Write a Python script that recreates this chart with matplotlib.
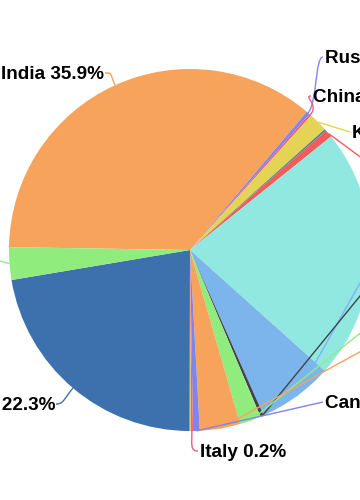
import numpy as np
import matplotlib
matplotlib.use("Agg")
import matplotlib.pyplot as plt
from matplotlib.path import Path
from matplotlib.patches import PathPatch

# ---- data (clockwise, starting with India) ----
countries = ["India", "Russia", "China", "Kazakhstan", "Other A", "Other B",
             "Other C", "Other D", "Other E", "Other F", "Other G",
             "Canada", "Italy", "Other H", "Other I", "Other J"]
shares = [35.9, 0.3, 0.2, 1.7, 0.15, 0.7,
          22.4, 6.7, 0.3, 1.9, 3.6,
          0.6, 0.2, 0.1, 22.3, 2.9]
colors = ["#f7a35c", "#8085e9", "#f15c80", "#e4d354", "#2b908f", "#f45b5b",
          "#91e8e1", "#7cb5ec", "#434348", "#90ed7d", "#f7a35c",
          "#8085e9", "#f15c80", "#e4d354", "#3d71ad", "#90ed7d"]

# label layout: (index, anchor x px, baseline y px, ha, text shown?, connector style)
W, H = 360, 500
CX, CY, R = 190, 250, 181
label_layout = [
    (0, 104, 79, "right", True, "curve"),
    (1, 325, 63, "left", True, "curve"),
    (2, 313, 102, "left", True, "curve"),
    (3, 352, 138, "left", True, "line"),
    (5, 380, 176, "left", False, "line"),
    (7, 380, 257, "left", False, "line"),
    (8, 380, 280, "left", False, "line"),
    (9, 380, 325, "left", False, "line"),
    (10, 380, 348, "left", False, "line"),
    (11, 325, 408, "left", True, "line"),
    (12, 200, 457, "left", True, "curve"),
    (14, 55, 410, "right", True, "curve"),
    (15, -12, 264, "right", False, "line"),
]

fig = plt.figure(figsize=(W / 100, H / 100), dpi=100)
ax = fig.add_axes([0, 0, 1, 1])

def px(x, y):
    return x, H - y

start = 90 - 270.9
wedges, _ = ax.pie(shares, colors=colors, startangle=start, counterclock=False,
                   center=px(CX, CY), radius=R, normalize=True,
                   wedgeprops=dict(linewidth=0, antialiased=True))
ax.set_xlim(0, W)
ax.set_ylim(0, H)
ax.set_aspect("equal")
ax.axis("off")

font = dict(family=["Liberation Sans", "DejaVu Sans"], fontweight="bold",
            fontsize=13.6, color="#000000")

for idx, lx, ly, ha, show, style in label_layout:
    w = wedges[idx]
    mid = np.deg2rad((w.theta1 + w.theta2) / 2)
    ux, uy = np.cos(mid), np.sin(mid)
    p0 = (CX + R * ux, H - CY + R * uy)
    ax_, ay_ = px(lx, ly - 6)
    if ha == "right":
        p2 = (ax_ + 1, ay_)
        c2 = (p2[0] + 8, p2[1])
    else:
        p2 = (ax_ - 2, ay_)
        c2 = (p2[0] - 8, p2[1])
    if style == "curve":
        c1 = (p0[0] + 14 * ux, p0[1] + 14 * uy)
        path = Path([p0, c1, c2, p2], [Path.MOVETO, Path.CURVE4, Path.CURVE4, Path.CURVE4])
    else:
        path = Path([p0, p2], [Path.MOVETO, Path.LINETO])
    ax.add_patch(PathPatch(path, facecolor="none", edgecolor=w.get_facecolor(),
                           lw=1.0, clip_on=False))
    if show:
        pct = f"{shares[idx]:.1f}%"
        ax.text(*px(lx, ly), f"{countries[idx]} {pct}", ha=ha, va="baseline",
                **font)

fig.savefig("out.png", dpi=100)
